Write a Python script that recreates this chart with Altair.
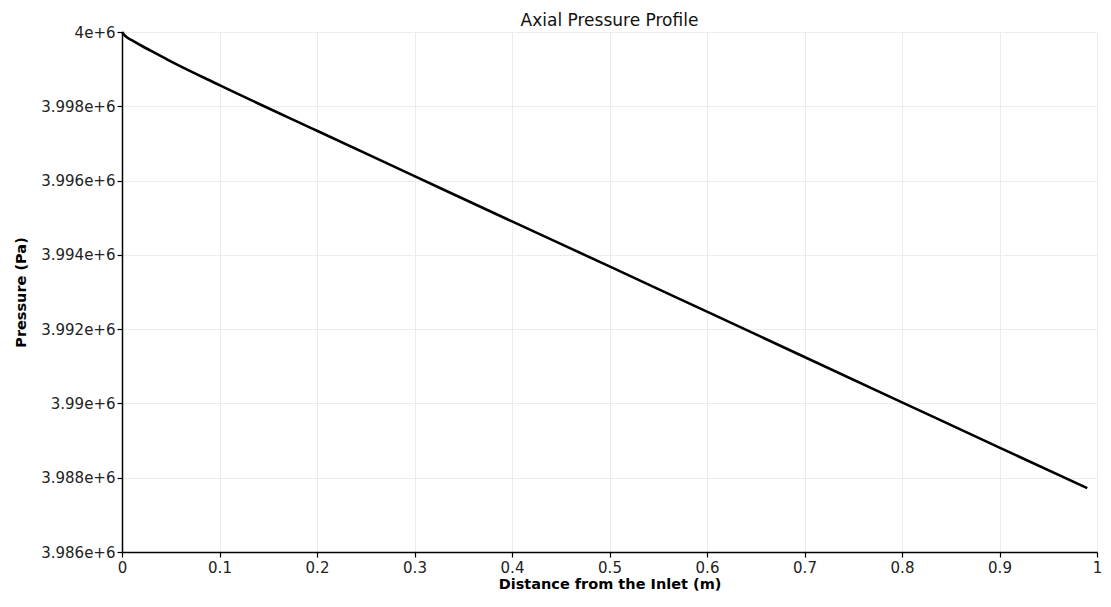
import altair as alt
import pandas as pd

distance = [0, 0.002, 0.005, 0.01, 0.02, 0.03, 0.05, 0.1, 0.2, 0.3, 0.4, 0.5, 0.6, 0.7, 0.8, 0.9, 0.99]
pressure = [4000000, 3999930, 3999860, 3999780, 3999630, 3999490, 3999210, 3998570,
            3997340, 3996120, 3994900, 3993690, 3992470, 3991250, 3990030, 3988810, 3987720]

df = pd.DataFrame({"distance": distance, "pressure": pressure})

FONT = "DejaVu Sans"

chart = alt.Chart(df).mark_line(color="black", strokeWidth=2.6, interpolate="monotone").encode(
    x=alt.X("distance:Q", title="Distance from the Inlet (m)",
            scale=alt.Scale(domain=[0, 1], nice=False, zero=False),
            axis=alt.Axis(values=[0, 0.1, 0.2, 0.3, 0.4, 0.5, 0.6, 0.7, 0.8, 0.9, 1],
                          format=".1~f", labelPadding=3, titlePadding=2)),
    y=alt.Y("pressure:Q", title="Pressure (Pa)",
            scale=alt.Scale(domain=[3986000, 4000000], nice=False, zero=False),
            axis=alt.Axis(values=[3986000, 3988000, 3990000, 3992000, 3994000, 3996000, 3998000, 4000000],
                          format=".4~e", titlePadding=12)),
).properties(
    width=975,
    height=520,
    title=alt.TitleParams("Axial Pressure Profile", fontSize=17, fontWeight="normal",
                          font=FONT, color="#111", anchor="middle", offset=-5),
    autosize=alt.AutoSizeParams(type="none"),
    padding={"left": 114, "top": 24, "right": 6, "bottom": 42},
).configure_view(
    stroke=None
).configure_axis(
    domainColor="black",
    domainWidth=1.5,
    tickColor="black",
    tickSize=5,
    tickWidth=1.2,
    gridColor="#ececec",
    gridWidth=1,
    labelFont=FONT,
    labelFontSize=15,
    labelColor="#222",
    titleFont=FONT,
    titleFontSize=14.5,
    titleFontWeight="bold",
    titleColor="black",
    labelFlush=False,
)

chart.save("out.html", embed_options={"renderer": "svg", "actions": False})
